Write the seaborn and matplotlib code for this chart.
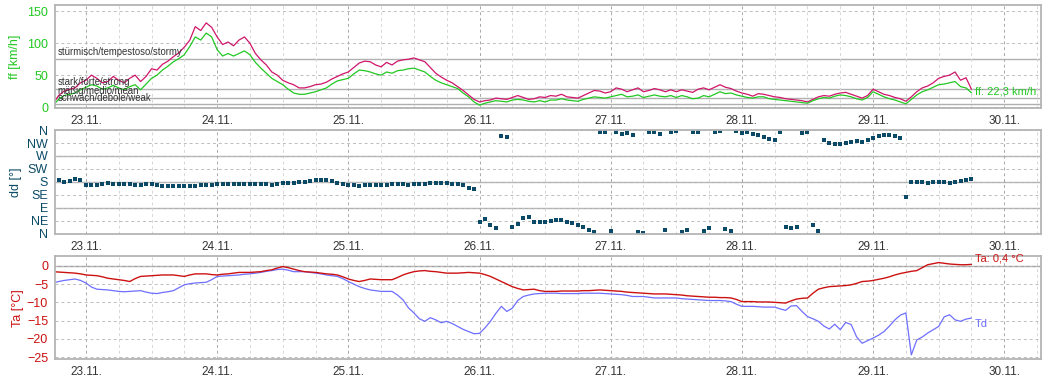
import matplotlib
matplotlib.use("Agg")
import matplotlib.pyplot as plt
import matplotlib.dates as mdates
from matplotlib.ticker import MultipleLocator, FixedLocator
import pandas as pd
import seaborn as sns

# hourly readings, 22.11. 18:00 -> 29.11. 18:00
times = pd.date_range("2023-11-22 18:00", periods=169, freq="h")

ff_gust = [5, 18, 25, 28, 30, 38,
           42, 50, 45, 38, 40, 48, 42, 38, 45, 50, 40, 48,
           60, 58, 67, 72, 79, 85, 94, 105, 126, 120, 132, 125,
           110, 98, 102, 96, 105, 110, 100, 84, 74, 66, 55, 50,
           42, 38, 35, 30, 30, 32, 35, 36, 39, 44, 48, 52,
           55, 62, 69, 72, 71, 66, 63, 70, 66, 72, 74, 75,
           77, 74, 71, 62, 53, 47, 42, 38, 32, 26, 19, 12,
           8, 10, 11, 14, 13, 12, 15, 18, 15, 12, 13, 16,
           15, 18, 17, 20, 16, 15, 14, 18, 22, 26, 25, 22,
           24, 30, 28, 24, 27, 30, 24, 26, 29, 27, 24, 27,
           24, 27, 25, 23, 28, 30, 27, 31, 35, 31, 29, 25,
           22, 20, 17, 21, 20, 18, 16, 15, 13, 12, 11, 10,
           8, 12, 16, 18, 17, 20, 22, 23, 20, 17, 14, 18,
           28, 24, 20, 18, 15, 13, 9, 16, 24, 30, 33, 38,
           45, 48, 50, 55, 42, 46, 28]
ff_mean = [3, 12, 18, 20, 22, 27,
           31, 35, 33, 28, 30, 34, 30, 27, 32, 35, 27, 36,
           45, 50, 58, 64, 71, 76, 82, 95, 110, 105, 116, 110,
           90, 80, 84, 80, 84, 88, 82, 70, 61, 53, 45, 40,
           35, 28, 22, 20, 20, 22, 24, 27, 30, 36, 41, 43,
           45, 52, 58, 57, 55, 52, 50, 55, 53, 57, 58, 60,
           61, 58, 55, 48, 42, 38, 35, 32, 29, 22, 16, 8,
           3, 6, 8, 10, 9, 8, 11, 12, 11, 9, 8, 10,
           8, 11, 11, 13, 11, 10, 9, 12, 14, 16, 15, 14,
           16, 18, 20, 16, 17, 19, 15, 17, 19, 17, 16, 18,
           15, 18, 16, 13, 14, 18, 16, 20, 24, 21, 22, 19,
           17, 15, 14, 16, 16, 13, 12, 11, 10, 9, 8, 7,
           6, 10, 13, 15, 14, 17, 19, 18, 16, 13, 11, 15,
           24, 20, 16, 13, 11, 8, 5, 12, 19, 24, 27, 31,
           35, 36, 38, 40, 32, 30, 22.3]
dd = [240, 185, 180, 183, 190, 186,
      169, 168, 169, 172, 175, 173, 174, 172, 174, 170, 169, 172,
      171, 168, 166, 166, 166, 167, 166, 166, 167, 168, 168, 170,
      174, 173, 174, 174, 174, 173, 172, 173, 174, 172, 169, 171,
      176, 176, 176, 178, 180, 182, 186, 187, 186, 182, 175, 172,
      169, 168, 167, 168, 169, 168, 169, 170, 171, 171, 171, 170,
      171, 172, 173, 175, 176, 176, 176, 174, 171, 170, 160, 155,
      40, 50, 30, 20, 340, 335, 24, 35, 53, 58, 42, 40,
      42, 45, 47, 47, 42, 38, 30, 22, 13, 5, 355, 352,
      8, 352, 348, 350, 343, 5, 2, 352, 354, 345, 13, 355,
      356, 6, 13, 354, 354, 10, 19, 352, 358, 15, 8, 356,
      351, 353, 348, 342, 337, 330, 325, 355, 23, 20, 24, 350,
      354, 30, 8, 325, 316, 313, 311, 314, 317, 322, 319, 325,
      331, 338, 342, 344, 339, 333, 128, 178, 180, 179, 177, 178,
      180, 178, 177, 181, 183, 186, 189]
ta = [-1.6, -1.7, -1.8, -1.9, -2.0, -2.2,
      -2.5, -2.6, -2.7, -3.0, -3.4, -3.6, -3.8, -4.0, -4.3, -3.5, -2.9, -2.8,
      -2.7, -2.6, -2.5, -2.5, -2.5, -2.7, -2.9, -2.5, -2.2, -2.2, -2.2, -2.4,
      -2.5, -2.3, -2.2, -2.0, -1.8, -1.8, -1.8, -1.7, -1.6, -1.3, -1.1, -0.6,
      -0.2, -0.5, -0.9, -1.3, -1.6, -1.7, -1.8, -2.0, -2.2, -2.3, -2.5, -3.0,
      -3.6, -4.0, -4.3, -4.0, -3.6, -3.7, -3.8, -3.8, -3.8, -3.2, -2.5, -2.0,
      -1.6, -1.4, -1.3, -1.5, -1.6, -1.8, -2.0, -2.0, -2.0, -1.9, -1.8, -1.9,
      -2.0, -2.4, -2.9, -3.6, -4.3, -5.0, -5.7, -6.2, -6.6, -6.5, -6.4, -6.8,
      -7.0, -7.0, -7.0, -6.9, -6.9, -6.9, -6.9, -6.8, -6.8, -6.7, -6.6, -6.7,
      -6.8, -6.9, -7.0, -7.2, -7.3, -7.4, -7.5, -7.6, -7.7, -7.7, -7.7, -7.8,
      -7.9, -8.0, -8.2, -8.3, -8.4, -8.5, -8.6, -8.6, -8.7, -8.7, -8.8, -9.2,
      -9.8, -9.8, -9.8, -9.9, -9.9, -9.9, -10.0, -10.1, -10.2, -9.6, -9.1, -8.9,
      -8.8, -7.5, -6.4, -6.0, -5.7, -5.6, -5.5, -5.4, -5.2, -4.8, -4.3, -4.2,
      -4.0, -3.7, -3.4, -3.0, -2.5, -2.1, -1.8, -1.5, -1.3, -0.5, 0.3, 0.6,
      0.9, 0.7, 0.5, 0.4, 0.3, 0.3, 0.4]
td = [-4.7, -4.3, -4.0, -3.8, -3.6, -4.0,
      -4.7, -5.8, -6.4, -6.5, -6.6, -6.8, -7.0, -7.1, -7.0, -6.9, -6.8, -7.2,
      -7.5, -7.6, -7.3, -7.1, -6.8, -6.0, -5.2, -4.9, -4.7, -4.6, -4.5, -3.8,
      -2.9, -2.8, -2.7, -2.6, -2.5, -2.3, -2.2, -2.0, -1.8, -1.5, -1.3, -1.0,
      -0.9, -1.2, -1.6, -1.6, -1.6, -1.8, -2.0, -2.2, -2.5, -2.7, -2.9, -3.5,
      -4.3, -5.0, -5.7, -6.2, -6.6, -6.8, -7.0, -7.0, -7.0, -8.0, -9.3, -11.5,
      -12.9, -14.5, -15.2, -14.2, -14.8, -15.6, -15.2, -15.8, -16.6, -17.4, -18.0, -18.6,
      -18.5, -17.0, -15.2, -13.0, -11.1, -12.5, -11.6, -9.5, -8.4, -8.0, -7.7, -7.6,
      -7.5, -7.5, -7.5, -7.6, -7.6, -7.6, -7.6, -7.5, -7.5, -7.5, -7.5, -7.6,
      -7.7, -7.8, -7.9, -8.1, -8.4, -8.4, -8.4, -8.6, -8.8, -8.8, -8.8, -8.8,
      -8.8, -9.0, -9.1, -9.2, -9.3, -9.4, -9.5, -9.5, -9.5, -9.6, -9.8, -10.5,
      -11.1, -11.1, -11.1, -11.2, -11.3, -11.3, -11.3, -11.8, -12.2, -11.0, -10.9, -12.5,
      -13.9, -14.5, -15.2, -16.5, -17.3, -16.0, -17.5, -15.5, -16.1, -19.5, -21.2, -20.5,
      -19.8, -19.0, -18.0, -16.5, -14.8, -13.5, -12.9, -24.4, -20.3, -19.5, -18.4, -17.5,
      -16.6, -14.0, -13.4, -14.8, -15.2, -14.6, -14.3]

wind_classes = ["stürmisch/tempestoso/stormy", "stark/forte/strong",
                "mäßig/medio/mean", "schwach/debole/weak"]
wind_limits = [75, 29, 14, 4]
dir_labels = ["N", "NE", "E", "SE", "S", "SW", "W", "NW", "N"]

df = pd.DataFrame({"time": times, "gust": ff_gust, "ff": ff_mean,
                   "dd": dd, "Ta": ta, "Td": td})

c_ff = "#22c822"
c_gust = "#d0156a"
c_dd = "#0b4a66"
c_ta = "#cc1111"
c_td = "#6e6eff"
c_spine = "#b4b4b4"

sns.set_style("white")
plt.rcParams["font.family"] = ["Liberation Sans", "DejaVu Sans"]

fig = plt.figure(figsize=(10.57, 3.77), dpi=100)
ax1 = fig.add_axes([0.052, 0.7127, 0.933, 0.274])
ax2 = fig.add_axes([0.052, 0.380, 0.933, 0.275])
ax3 = fig.add_axes([0.052, 0.047, 0.933, 0.274])

x0 = pd.Timestamp("2023-11-22 18:20")
x1 = pd.Timestamp("2023-11-30 06:45")

sns.lineplot(data=df, x="time", y="gust", ax=ax1, color=c_gust, lw=0.9)
sns.lineplot(data=df, x="time", y="ff", ax=ax1, color=c_ff, lw=0.9)
sns.scatterplot(data=df, x="time", y="dd", ax=ax2, color=c_dd, s=5,
                marker="s", linewidth=0)
sns.lineplot(data=df, x="time", y="Td", ax=ax3, color=c_td, lw=0.9)
sns.lineplot(data=df, x="time", y="Ta", ax=ax3, color=c_ta, lw=1.0)

for ax in (ax1, ax2, ax3):
    ax.set_xlim(x0, x1)
    ax.xaxis.set_major_locator(mdates.DayLocator())
    ax.xaxis.set_major_formatter(mdates.DateFormatter("%d.%m."))
    ax.xaxis.set_minor_locator(mdates.HourLocator(byhour=[6, 12, 18]))
    ax.grid(which="major", axis="x", color="#a8a8a8", ls=(0, (3, 3)), lw=0.7)
    ax.grid(which="minor", axis="x", color="#d6d6d6", ls=(0, (3, 3)), lw=0.7)
    ax.grid(which="major", axis="y", color="#bcbcbc", ls=(0, (3, 3)), lw=0.7)
    ax.set_axisbelow(True)
    for s in ax.spines.values():
        s.set_color(c_spine)
        s.set_linewidth(1.3)
    ax.tick_params(axis="x", which="major", length=3, color=c_spine,
                   labelsize=8.5, labelcolor="#333333", pad=2)
    ax.tick_params(axis="x", which="minor", length=0)
    ax.tick_params(axis="y", which="major", length=3, color=c_spine, pad=2)
    ax.tick_params(axis="y", which="minor", length=2, color=c_spine)
    ax.set_xlabel("")

# wind speed
ax1.set_ylim(-2, 160)
ax1.yaxis.set_major_locator(FixedLocator([0, 50, 100, 150]))
ax1.yaxis.set_minor_locator(MultipleLocator(10))
ax1.tick_params(axis="y", labelsize=9, labelcolor=c_ff)
ax1.set_ylabel("ff [km/h]", color=c_ff, fontsize=9, labelpad=4)
for name, lim in zip(wind_classes, wind_limits):
    ax1.axhline(lim, color="#b0b0b0", lw=1.0, zorder=0.5)
    ax1.text(x0 + pd.Timedelta("25min"), lim + 3, name, fontsize=6.9,
             color="#333333", va="bottom", ha="left")
ax1.text(df["time"].iloc[-1] + pd.Timedelta("40min"), 25,
         "ff: " + f"{ff_mean[-1]:.1f}".replace(".", ",") + " km/h",
         color=c_ff, fontsize=8, va="center", ha="left")

# wind direction
ax2.set_ylim(0, 360)
ax2.yaxis.set_major_locator(FixedLocator(list(range(0, 361, 45))))
ax2.set_yticklabels(dir_labels)
ax2.tick_params(axis="y", labelsize=9, labelcolor=c_dd)
ax2.set_ylabel("dd [°]", color=c_dd, fontsize=9, labelpad=4)
for v in (90, 180, 270):
    ax2.axhline(v, color="#b0b0b0", lw=1.0, zorder=0.5)

# temperature
ax3.set_ylim(-25.6, 2.7)
ax3.yaxis.set_major_locator(MultipleLocator(5))
ax3.yaxis.set_minor_locator(MultipleLocator(1))
ax3.tick_params(axis="y", labelsize=9, labelcolor=c_ta)
ax3.set_ylabel("Ta [°C]", color=c_ta, fontsize=9, labelpad=2)
ax3.axhline(0, color="#a0a0a0", lw=1.0, zorder=0.5)
ax3.text(df["time"].iloc[-1] + pd.Timedelta("40min"), 2.0,
         "Ta: " + f"{ta[-1]:.1f}".replace(".", ",") + " °C",
         color=c_ta, fontsize=8, va="center", ha="left", clip_on=False)
ax3.text(df["time"].iloc[-1] + pd.Timedelta("40min"), -16.0, "Td",
         color=c_td, fontsize=8, va="center", ha="left")

fig.savefig("out.png", dpi=100)
